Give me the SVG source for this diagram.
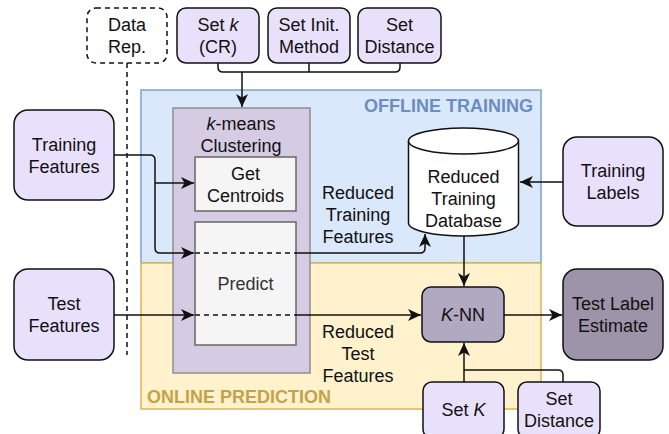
<svg xmlns="http://www.w3.org/2000/svg" width="669" height="434" viewBox="0 0 669 434">
<style>
text{font-family:"Liberation Sans",Arial,sans-serif;font-size:18px;fill:#111;text-anchor:middle}
.node{fill:#e9e1fc;stroke:#111;stroke-width:1.5}
.conn{fill:none;stroke:#111;stroke-width:1.5}
.dash{fill:none;stroke:#111;stroke-width:1.5;stroke-dasharray:5 4}
.lbl{font-weight:bold}
</style>
<defs>
<marker id="ah" markerUnits="userSpaceOnUse" markerWidth="14" markerHeight="12" viewBox="0 0 14 12" refX="13" refY="6" orient="auto">
<path d="M0,0 L13,6 L0,12 L3.5,6 Z" fill="#111"/>
</marker>
</defs>

<g id="offline-training">
<rect x="141" y="90" width="400" height="173" fill="#dae8fc" stroke="#7ea0cf" stroke-width="1.5"/>
<text class="lbl" x="533" y="112" style="text-anchor:end;fill:#6c8ebf">OFFLINE TRAINING</text>
</g>
<g id="online-prediction">
<rect x="141" y="263" width="400" height="146" fill="#fff2cc" stroke="#d6b656" stroke-width="1.5"/>
<text class="lbl" x="147" y="403" style="text-anchor:start;fill:#c5a24a">ONLINE PREDICTION</text>
</g>

<g id="kmeans">
<rect x="173" y="108" width="137" height="265" fill="#d5cbe3" stroke="#8e8e8e" stroke-width="1.5"/>
<text x="241" y="130"><tspan font-style="italic">k</tspan>-means</text>
<text x="241" y="152">Clustering</text>
</g>
<g id="get-centroids">
<rect x="195" y="157" width="101" height="54" fill="#f5f5f5" stroke="#666" stroke-width="1.5"/>
<text x="245.5" y="179.5">Get</text>
<text x="245.5" y="201.5">Centroids</text>
</g>
<g id="predict">
<rect x="195" y="222" width="101" height="123" fill="#f5f5f5" stroke="#666" stroke-width="1.5"/>
<text x="245.5" y="290" style="fill:#333">Predict</text>
</g>

<g id="data-rep">
<rect x="87" y="8" width="80" height="55" rx="9" fill="#fff" stroke="#111" stroke-width="1.5" stroke-dasharray="5 4"/>
<text x="127" y="31">Data</text>
<text x="127" y="53">Rep.</text>
</g>
<g id="set-k-cr">
<rect class="node" x="177" y="8" width="82" height="55" rx="9"/>
<text x="218" y="31">Set <tspan font-style="italic">k</tspan></text>
<text x="218" y="53">(CR)</text>
</g>
<g id="set-init">
<rect class="node" x="268" y="8" width="82" height="55" rx="9"/>
<text x="309" y="31">Set Init.</text>
<text x="309" y="53">Method</text>
</g>
<g id="set-distance-top">
<rect class="node" x="358" y="8" width="83" height="55" rx="9"/>
<text x="399.5" y="31">Set</text>
<text x="399.5" y="53">Distance</text>
</g>

<g id="training-features">
<rect class="node" x="14" y="110" width="100" height="90" rx="14"/>
<text x="64" y="150.5">Training</text>
<text x="64" y="172.5">Features</text>
</g>
<g id="test-features">
<rect class="node" x="14" y="269" width="100" height="91" rx="14"/>
<text x="64" y="310">Test</text>
<text x="64" y="332">Features</text>
</g>
<g id="training-labels">
<rect class="node" x="563" y="137" width="100" height="89" rx="14"/>
<text x="613" y="177">Training</text>
<text x="613" y="199">Labels</text>
</g>

<g id="database">
<path d="M408.5,141 A55,13 0 0 1 518.5,141 V223 A55,13 0 0 1 408.5,223 Z" fill="#fff" stroke="#111" stroke-width="1.5"/>
<path d="M408.5,141 A55,13 0 0 0 518.5,141" fill="none" stroke="#111" stroke-width="1.5"/>
<text x="463.5" y="183">Reduced</text>
<text x="463.5" y="205">Training</text>
<text x="463.5" y="227">Database</text>
</g>

<g id="knn">
<rect x="422" y="287" width="82" height="55" rx="9" fill="#b1a8c2" stroke="#111" stroke-width="1.5"/>
<text x="463" y="321"><tspan font-style="italic">K</tspan>-NN</text>
</g>
<g id="test-label-estimate">
<rect x="563" y="269" width="100" height="91" rx="14" fill="#9d94aa" stroke="#111" stroke-width="1.5"/>
<text x="613" y="310">Test Label</text>
<text x="613" y="332">Estimate</text>
</g>
<g id="set-k-bottom">
<rect class="node" x="423" y="382" width="81" height="56" rx="9"/>
<text x="463.5" y="416">Set <tspan font-style="italic">K</tspan></text>
</g>
<g id="set-distance-bottom">
<rect class="node" x="518" y="382" width="82" height="56" rx="9"/>
<text x="559" y="405">Set</text>
<text x="559" y="427">Distance</text>
</g>

<g id="edge-labels">
<text x="358" y="199">Reduced</text>
<text x="358" y="221">Training</text>
<text x="358" y="243">Features</text>
<text x="358" y="338">Reduced</text>
<text x="358" y="360">Test</text>
<text x="358" y="382">Features</text>
</g>

<g id="connectors">
<path class="dash" d="M127,63 V355"/>
<path class="conn" d="M218,63 V67 Q218,72 223,72 H395 Q400,72 400,67 V63"/>
<path class="conn" d="M309,63 V72"/>
<path class="conn" d="M242,72 V107" marker-end="url(#ah)"/>
<path class="conn" d="M114,155 H150 Q155,155 155,160 V248 Q155,253 160,253 H194" marker-end="url(#ah)"/>
<path class="conn" d="M155,183 H194" marker-end="url(#ah)"/>
<path class="dash" d="M195,253 H296"/>
<path class="conn" d="M296,253 H420 Q425,253 425,248 V234" marker-end="url(#ah)"/>
<path class="conn" d="M114,315 H194" marker-end="url(#ah)"/>
<path class="dash" d="M195,315 H296"/>
<path class="conn" d="M296,315 H421" marker-end="url(#ah)"/>
<path class="conn" d="M563,182 H520" marker-end="url(#ah)"/>
<path class="conn" d="M464,236 V286" marker-end="url(#ah)"/>
<path class="conn" d="M504,315 H562" marker-end="url(#ah)"/>
<path class="conn" d="M464,382 V343" marker-end="url(#ah)"/>
<path class="conn" d="M563,382 V375 Q563,370 558,370 H464"/>
</g>
</svg>
